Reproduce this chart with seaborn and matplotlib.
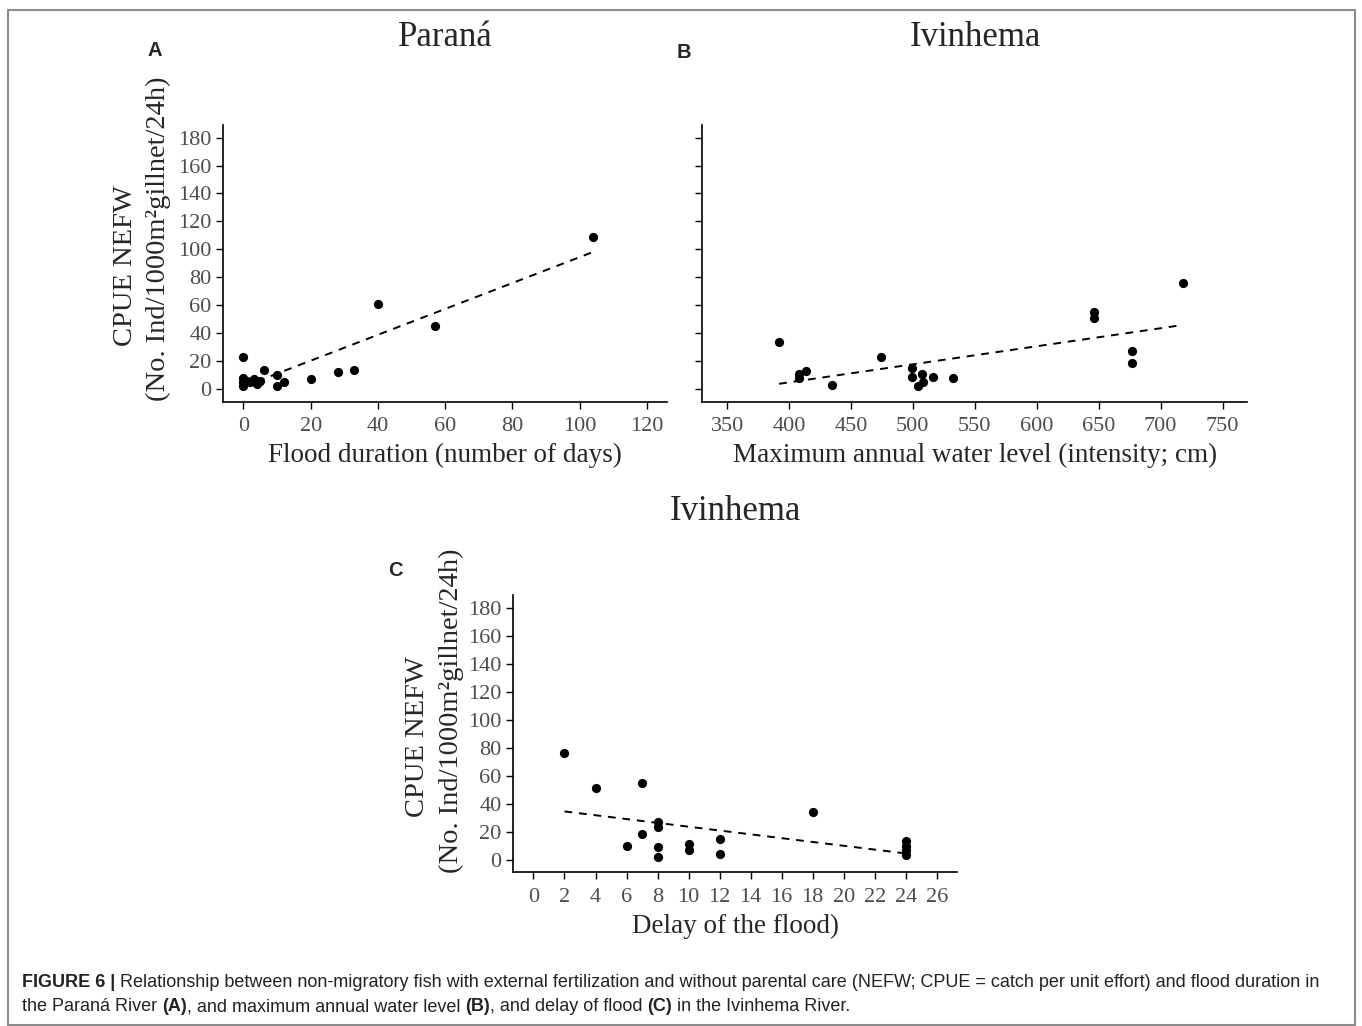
import matplotlib
matplotlib.use('Agg')
import matplotlib.pyplot as plt
import seaborn as sns
import pandas as pd

# Panel A - Parana, flood duration (days) vs CPUE
flood_days = [0, 0, 0, 0, 1, 2, 3, 4, 5, 6, 10, 10, 12, 20, 28, 33, 40, 57, 104]
cpue_parana = [23, 8, 5, 2, 6, 5, 7, 4, 6, 14, 10, 2, 5, 7, 12, 14, 61, 45, 109]

# Panel B - Ivinhema, maximum annual water level (cm) vs CPUE
water_level = [392, 408, 408, 414, 435, 474, 499, 499, 504, 507, 508, 516, 532,
               646, 646, 677, 677, 718]
cpue_level = [34, 11, 8, 13, 3, 23, 15, 9, 2, 11, 5, 9, 8, 55, 51, 27, 19, 76]

# Panel C - Ivinhema, delay of the flood vs CPUE
flood_delay = [2, 4, 6, 7, 7, 8, 8, 8, 8, 10, 10, 12, 12, 18, 24, 24, 24, 24]
cpue_delay = [76, 51, 10, 55, 18, 27, 23, 9, 2, 11, 7, 15, 4, 34, 13, 10, 7, 3]

ylab_top = 'CPUE NEFW'
ylab_bottom = '(No. Ind/1000m\u00b2gillnet/24h)'

W, H = 1362, 1026
sns.set_style('ticks')
plt.rcParams['font.family'] = ['Liberation Serif', 'DejaVu Serif']

fig = plt.figure(figsize=(W / 100, H / 100), dpi=100)

LABEL_SIZE = 19.5
YLABEL_SIZE = 20.5
TICK_SIZE = 16
TITLE_SIZE = 25


def px_axes(l, r, t, b):
    return fig.add_axes([l / W, 1 - b / H, (r - l) / W, (b - t) / H])


def ftext(x, y, s, **kw):
    return fig.text(x / W, 1 - y / H, s, **kw)


def style(ax, xticks, xlim):
    ax.set_xlim(xlim)
    ax.set_ylim(-9, 189)
    ax.set_xticks(xticks)
    ax.set_yticks(range(0, 181, 20))
    ax.tick_params(labelsize=TICK_SIZE, labelcolor='#4d4d4d', color='black',
                   length=5, width=1.0)
    ax.tick_params(axis='x', pad=6)
    ax.tick_params(axis='y', pad=3.5)
    for s in ['left', 'bottom']:
        ax.spines[s].set_linewidth(1.2)
        ax.spines[s].set_color('black')
    ax.set_ylabel('')
    sns.despine(ax=ax)


def draw(ax, x, y):
    df = pd.DataFrame({'x': x, 'y': y})
    sns.scatterplot(data=df, x='x', y='y', ax=ax, color='black', s=44,
                    edgecolor='black', linewidth=0, zorder=3)
    sns.regplot(data=df, x='x', y='y', ax=ax, scatter=False, ci=None,
                truncate=True,
                line_kws={'color': 'black', 'lw': 1.4, 'ls': (0, (4, 3.5))})


def cpue_label(pos_top, pos_bottom):
    # two-line y label, the second line sits a little higher as in the original
    ftext(*pos_top, ylab_top, fontsize=YLABEL_SIZE, rotation=90,
          ha='center', va='center')
    ftext(*pos_bottom, ylab_bottom, fontsize=YLABEL_SIZE, rotation=90,
          ha='center', va='center')


axA = px_axes(223.3, 667, 125, 401.7)
draw(axA, flood_days, cpue_parana)
style(axA, range(0, 121, 20), (-6, 126))
axA.set_xlabel('Flood duration (number of days)', fontsize=LABEL_SIZE, labelpad=5)
cpue_label((126, 266), (158, 239))

axB = px_axes(702.3, 1247.3, 125, 401.7)
draw(axB, water_level, cpue_level)
style(axB, range(350, 751, 50), (330, 770))
axB.set_yticklabels([])
axB.set_xlabel('Maximum annual water level (intensity; cm)', fontsize=LABEL_SIZE,
               labelpad=5)

axC = px_axes(513.3, 957, 595, 872.3)
draw(axC, flood_delay, cpue_delay)
style(axC, range(0, 27, 2), (-1.3, 27.3))
axC.set_xlabel('Delay of the flood)', fontsize=LABEL_SIZE, labelpad=5)
cpue_label((418, 737), (451, 711))

ftext(445, 38, 'Paran\u00e1', fontsize=TITLE_SIZE, ha='center', va='center')
ftext(975, 38, 'Ivinhema', fontsize=TITLE_SIZE, ha='center', va='center')
ftext(735, 511, 'Ivinhema', fontsize=TITLE_SIZE, ha='center', va='center')

sans = ['Liberation Sans', 'DejaVu Sans']
for lab, x, y in [('A', 155, 50), ('B', 684, 52), ('C', 395, 571)]:
    ftext(x, y, lab, fontsize=14.5, fontweight='bold', family=sans,
          ha='center', va='center')

# caption with mixed bold / normal runs
cap_size = 13
cap_color = '#222222'
renderer = fig.canvas.get_renderer()


def width_of(s, bold=False):
    t = fig.text(0, 0, s, fontsize=cap_size, family=sans,
                 fontweight='bold' if bold else 'normal')
    w = t.get_window_extent(renderer).width
    t.remove()
    return w


space_w = width_of('x x') - width_of('xx')


def caption_line(pieces, x, y):
    for txt, bold in pieces:
        if txt.startswith(' '):
            x += space_w
        t = ftext(x, y, txt.strip(), fontsize=cap_size, family=sans,
                  fontweight='bold' if bold else 'normal', color=cap_color,
                  ha='left', va='baseline')
        x = t.get_window_extent(renderer).x1
        if txt.endswith(' '):
            x += space_w


caption_line([('FIGURE 6 |', True),
              (' Relationship between non-migratory fish with external fertilization '
               'and without parental care (NEFW; CPUE = catch per unit effort) and '
               'flood duration in', False)], 22, 987)
caption_line([('the Paran\u00e1 River ', False), ('(A)', True),
              (', and maximum annual water level ', False), ('(B)', True),
              (', and delay of flood ', False), ('(C)', True),
              (' in the Ivinhema River.', False)], 22, 1011)

# grey frame around the figure panel
frame = plt.Rectangle((7.5 / W, 1 - 1025 / H), (1354.5 - 7.5) / W, (1025 - 10) / H,
                      transform=fig.transFigure, fill=False, edgecolor='#8c8c8c',
                      linewidth=1.5)
fig.add_artist(frame)

fig.savefig('out.png', dpi=100)
